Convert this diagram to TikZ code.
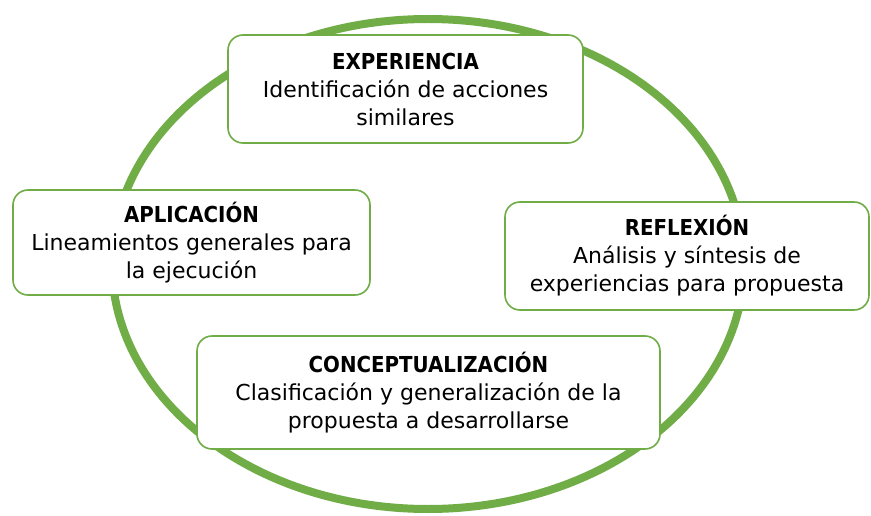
\documentclass[tikz,border=0pt]{standalone}
\usepackage{fontspec}
\setmainfont{DejaVu Sans}
\newfontfamily\titlefont{DejaVu Sans Condensed}[BoldFont={DejaVu Sans Condensed Bold}]
\usepackage{tikz}
\usetikzlibrary{positioning}
\usepackage{xcolor}
\definecolor{cyclegreen}{HTML}{70AD47}

\begin{document}
\begin{tikzpicture}[x=1pt, y=-1pt,
        stage/.style={
            draw=cyclegreen,
            line width=1.6pt,
            fill=white,
            rounded corners=15pt,
            align=center,
            inner sep=0pt,
            font=\fontsize{22}{28}\selectfont
        },
        ttl/.style={font=\titlefont\bfseries}
    ]
        \useasboundingbox (0,0) rectangle (871,516);
        \draw[cyclegreen, line width=8pt] (428,264) ellipse [x radius=316pt, y radius=245pt];
        \node (exper) [stage, minimum width=355pt, minimum height=108pt] at (405.5,89)
            {{\titlefont\bfseries EXPERIENCIA}\\Identificación de acciones\\similares};
        \node (aplic) [stage, minimum width=357pt, minimum height=105pt] at (191.5,242.5)
            {{\titlefont\bfseries APLICACIÓN}\\Lineamientos generales para\\la ejecución};
        \node (reflex) [stage, minimum width=364pt, minimum height=108pt] at (687,256)
            {{\titlefont\bfseries REFLEXIÓN}\\Análisis y síntesis de\\experiencias para propuesta};
        \node (concep) [stage, minimum width=463pt, minimum height=113pt] at (428.5,392.5)
            {{\titlefont\bfseries CONCEPTUALIZACIÓN}\\Clasificación y generalización de la\\propuesta a desarrollarse};
\end{tikzpicture}
\end{document}
